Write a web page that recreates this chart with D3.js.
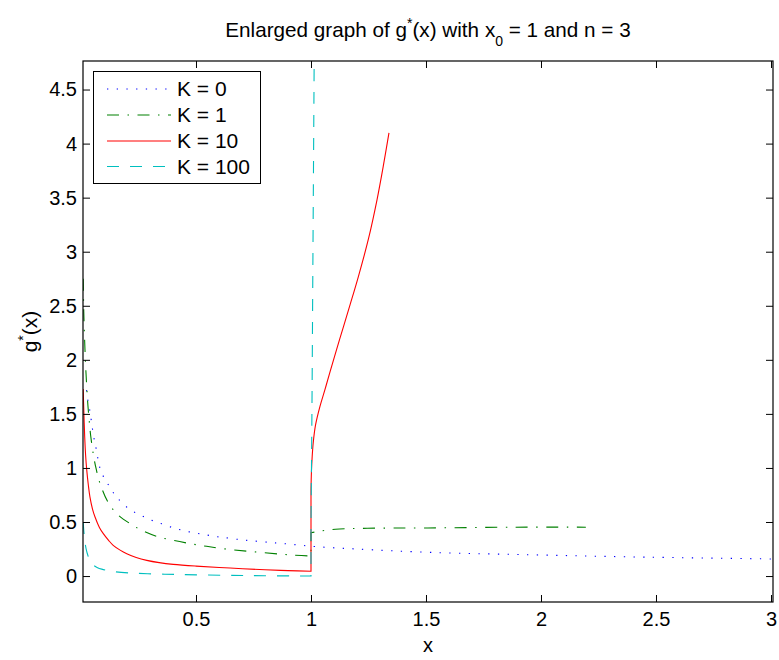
<!DOCTYPE html>
<html><head><meta charset="utf-8">
<script src="https://cdn.jsdelivr.net/npm/d3@7"></script>
<style>
body{margin:0;background:#fff}
text{font-family:"Liberation Sans",Arial,Helvetica,sans-serif;fill:#000}
</style>
</head><body>
<svg id="chart" width="779" height="660"></svg>
<script>
// ---------- data ----------
const xTicks = [0.5, 1, 1.5, 2, 2.5, 3];
const yTicks = [0, 0.5, 1, 1.5, 2, 2.5, 3, 3.5, 4, 4.5];
const seriesNames = ["K = 0", "K = 1", "K = 10", "K = 100"];

const k0X = [0.024,0.027,0.036,0.042,0.048,0.054,0.062,0.077,0.088,0.109,0.129,0.155,0.216,0.254,0.291,0.329,0.37,0.409,0.448,0.491,0.532,0.572,0.616,0.7,0.8,0.902,1.029,1.197,1.533,1.953,2.373,3.006];
const k0Y = [1.72,1.66,1.56,1.48,1.39,1.30,1.22,1.05,0.96,0.88,0.81,0.73,0.61,0.57,0.53,0.50,0.47,0.44,0.42,0.40,0.386,0.37,0.358,0.335,0.315,0.296,0.271,0.25,0.218,0.197,0.178,0.158];

const k1X = [0.0095,0.012,0.016,0.02,0.025,0.03,0.036,0.042,0.054,0.065,0.083,0.117,0.155,0.213,0.264,0.329,0.401,0.474,0.546,0.64,0.75,0.865,0.93,1.0,1.0,1.038,1.106,1.245,1.508,1.888,2.195];
const k1Y = [2.75,2.45,2.17,1.95,1.75,1.58,1.43,1.30,1.12,1.0,0.855,0.685,0.578,0.485,0.423,0.367,0.33,0.30,0.275,0.247,0.225,0.203,0.193,0.185,0.40,0.415,0.433,0.442,0.445,0.452,0.452];

const k10X = [0.0095,0.012,0.016,0.02,0.025,0.032,0.039,0.05,0.061,0.08,0.097,0.12,0.14,0.17,0.199,0.24,0.286,0.34,0.401,0.5,0.648,0.8,0.9,1.0,1.0,1.002,1.005,1.01,1.02,1.039,1.06,1.083,1.126,1.17,1.206,1.25,1.287,1.315,1.339];
const k10Y = [1.73,1.55,1.29,1.12,0.98,0.84,0.73,0.62,0.546,0.45,0.392,0.33,0.284,0.24,0.207,0.172,0.145,0.124,0.108,0.092,0.074,0.058,0.05,0.045,0.80,0.97,1.1,1.24,1.40,1.57,1.72,1.89,2.2,2.51,2.77,3.12,3.48,3.8,4.1];

const k100X = [0.0095,0.013,0.017,0.022,0.03,0.039,0.055,0.07,0.09,0.14,0.227,0.33,0.43,0.633,0.8,1.0,1.0,1.004,1.007,1.01,1.013,1.015];
const k100Y = [0.50,0.40,0.32,0.254,0.19,0.145,0.10,0.08,0.064,0.042,0.027,0.019,0.014,0.007,0.003,0.0,0.5,1.5,2.5,3.5,4.5,5.2];

const seriesColors = ["#0000ff", "#008000", "#ff0000", "#00bfbf"];
const seriesDash = ["1.3,8.4", "12,8.5,1.5,8.5", null, "12,11"];
const seriesX = [k0X, k1X, k10X, k100X];
const seriesY = [k0Y, k1Y, k10Y, k100Y];

// ---------- layout ----------
const svg = d3.select("#chart");
const L = 83, R = 773, T = 61, B = 602;
const x = d3.scaleLinear().domain([0.0087, 3.0087]).range([L, R]);
const y = d3.scaleLinear().domain([-0.24, 4.764]).range([B, T]);

svg.append("rect").attr("width", 779).attr("height", 660).attr("fill", "#fff");

svg.append("clipPath").attr("id", "clip")
  .append("rect").attr("x", L).attr("y", T).attr("width", R - L).attr("height", B - T);

const plot = svg.append("g").attr("clip-path", "url(#clip)");
const line = d3.line().x(d => x(d[0])).y(d => y(d[1])).curve(d3.curveCatmullRom.alpha(0.5));

// build one continuous path; jumps (repeated x) are joined by straight segments
function buildPath(xs, ys) {
  const segs = [[]];
  xs.forEach((v, j) => {
    if (j > 0 && v === xs[j - 1]) segs.push([]);
    segs[segs.length - 1].push([v, ys[j]]);
  });
  return segs.map((s, i) => {
    const d = line(s);
    return i === 0 ? d : d.replace(/^M/, "L");
  }).join("");
}

seriesX.forEach((xs, i) => {
  plot.append("path")
    .attr("d", buildPath(xs, seriesY[i]))
    .attr("fill", "none")
    .attr("stroke", seriesColors[i])
    .attr("stroke-width", 1.1)
    .attr("stroke-dasharray", seriesDash[i]);
});

// axes (MATLAB style: box, inward ticks on all sides)
const tickLen = 7;
const fs = 20;
const axB = svg.append("g").attr("transform", `translate(0,${B})`)
  .call(d3.axisBottom(x).tickValues(xTicks).tickSize(-tickLen).tickPadding(10).tickFormat(d => String(d)));
const axT = svg.append("g").attr("transform", `translate(0,${T})`)
  .call(d3.axisTop(x).tickValues(xTicks).tickSize(-tickLen).tickFormat(""));
const axL = svg.append("g").attr("transform", `translate(${L},0)`)
  .call(d3.axisLeft(y).tickValues(yTicks).tickSize(-tickLen).tickPadding(6).tickFormat(d => String(d)));
const axR = svg.append("g").attr("transform", `translate(${R},0)`)
  .call(d3.axisRight(y).tickValues(yTicks).tickSize(-tickLen).tickFormat(""));
[axB, axT, axL, axR].forEach(a => {
  a.select(".domain").remove();
  a.selectAll("line").attr("stroke", "#000").attr("stroke-width", 1);
  a.selectAll("text").attr("font-size", fs).attr("font-family", null).attr("fill", "#000");
});
svg.append("rect").attr("x", L).attr("y", T).attr("width", R - L).attr("height", B - T)
  .attr("fill", "none").attr("stroke", "#000").attr("stroke-width", 1.2);

// title
const title = svg.append("text").attr("x", (L + R) / 2).attr("y", 37)
  .attr("text-anchor", "middle").attr("font-size", 20.7);
title.append("tspan").text("Enlarged graph of g");
title.append("tspan").attr("font-size", 14).attr("dy", -9).text("*");
title.append("tspan").attr("dy", 9).text("(x) with x");
title.append("tspan").attr("font-size", 14).attr("dy", 9).text("0");
title.append("tspan").attr("dy", -9).text(" = 1 and n = 3");

// axis labels
svg.append("text").attr("x", (L + R) / 2).attr("y", 652).attr("text-anchor", "middle")
  .attr("font-size", 20).text("x");
const yl = svg.append("text").attr("transform", `translate(37,${(T + B) / 2}) rotate(-90)`)
  .attr("text-anchor", "middle").attr("font-size", 21);
yl.append("tspan").text("g");
yl.append("tspan").attr("font-size", 14).attr("dy", -9).text("*");
yl.append("tspan").attr("dy", 9).text("(x)");

// legend
const lg = svg.append("g");
lg.append("rect").attr("x", 93.5).attr("y", 71.5).attr("width", 167).attr("height", 112)
  .attr("fill", "#fff").attr("stroke", "#000").attr("stroke-width", 1);
const rowY = [89, 115, 141, 166.5];
seriesNames.forEach((name, i) => {
  lg.append("line").attr("x1", 107).attr("x2", 171).attr("y1", rowY[i]).attr("y2", rowY[i])
    .attr("stroke", seriesColors[i]).attr("stroke-width", 1.1)
    .attr("stroke-dasharray", seriesDash[i]);
  lg.append("text").attr("x", 177).attr("y", rowY[i] + 7).attr("font-size", 21).text(name);
});
</script>
</body></html>
